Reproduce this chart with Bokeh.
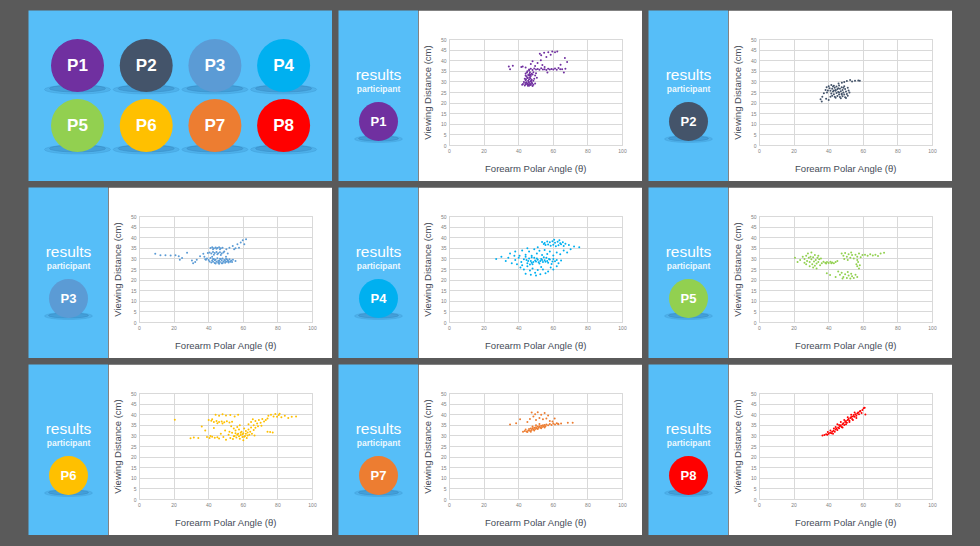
from bokeh.plotting import figure
from bokeh.layouts import row, column
from bokeh.models import Range1d, FixedTicker, Spacer, ColumnDataSource
from bokeh.core.properties import value
from bokeh.embed import file_html
from bokeh.resources import INLINE

# ---------------- data ----------------
PARTICIPANTS = ["P1", "P2", "P3", "P4", "P5", "P6", "P7", "P8"]
COLORS = ["#7030A0", "#44546A", "#5B9BD5", "#00B0F0",
          "#92D050", "#FFC000", "#ED7D31", "#FF0000"]
X_TICKS = [0, 20, 40, 60, 80, 100]
Y_TICKS = [0, 5, 10, 15, 20, 25, 30, 35, 40, 45, 50]
X_LABEL = "Forearm Polar Angle (\u03b8)"
Y_LABEL = "Viewing Distance (cm)"
HEADING = "results"
SUBHEADING = "participant"

P1 = [(52.2,43.3),(54.7,43.7),(57.1,44.0),(59.4,44.3),(61.0,44.0),(62.3,44.3),(56.0,41.7),(53.0,42.6),(58.5,42.8),
      (66.7,41.3),(68.0,39.4),(64.2,38.1),(65.1,36.0),(67.0,36.2),(66.1,34.4),(63.0,36.5),
      (34.3,37.3),(35.0,36.0),(36.6,37.6),(41.5,37.0),(42.3,37.3),(44.0,36.8),
      (48.0,39.7),(50.9,38.9),(52.8,40.2),(53.7,38.0),(50.0,34.1),(56.6,34.4),(55.0,37.0),(49.5,37.5),(47.0,38.5),
      (46,35.8),(47,36.2),(48,35.6),(49,36.3),(50,35.9),(51,36.1),(52,35.7),(53,36.4),(54,35.9),(55,36.0),
      (56,35.6),(57,36.2),(58,35.8),(59,36.1),(60,35.9),(61,36.3),(62,35.7),(64,36.0),
      (45.0,35.0),(46.5,34.5),(44.0,34.0),(47.5,33.8),(45.5,33.2),(46.0,33.0),(48.0,33.5),(44.5,32.5),(46.5,32.2),
      (47.0,32.8),(45.0,31.8),(43.5,31.5),(46.0,31.2),(47.5,31.0),(44.0,30.8),(45.5,30.5),(46.8,30.2),(43.0,30.0),
      (44.5,29.8),(46.0,29.5),(47.5,29.8),(48.5,30.5),(42.5,29.0),(44.0,28.8),(45.5,28.6),(47.0,28.5),(48.5,28.7),
      (49.5,29.2),(43.5,28.3),(46.0,28.2),(48.0,28.1),(49.0,31.5),(49.5,33.0),(50.5,32.0),(42.0,28.6),(45.0,29.2),
      (47.0,29.0),(44.0,33.0),(48.5,34.5),(46.0,35.5),
      (44.8,34.4),(46.2,33.7),(45.2,32.0),(46.8,31.6),(44.2,31.2),(45.8,30.0),(47.2,30.6),(44.8,29.0),(46.5,28.9),
      (47.8,29.3),(45.3,28.2),(46.9,33.4),(43.8,29.5)]

P2 = [(50.5,30.4),(52.4,30.9),(55.2,30.6),(57.1,30.7),(58.0,30.6),(47.6,29.6),(45.7,29.3),(53.5,30.2),(49.0,29.9),
      (35.3,21.8),(36.3,23.0),(37.2,24.6),(38.2,26.2),(40.0,21.5),(41.0,23.0),(36.0,20.8),(38.5,22.0),(39.0,25.0),
      (40.0,28.0),(41.5,28.5),(43.0,28.2),(44.5,27.8),(46.0,28.3),(47.5,27.5),(49.0,28.0),(40.5,27.0),(42.0,26.8),
      (43.5,27.2),(45.0,26.5),(46.5,26.8),(48.0,26.2),(49.5,26.7),(51.0,27.2),(41.0,25.8),(42.5,25.5),(44.0,25.8),
      (45.5,25.2),(47.0,25.6),(48.5,25.0),(50.0,25.5),(41.5,24.5),(43.0,24.2),(44.5,24.8),(46.0,24.0),(47.5,24.4),
      (49.0,24.0),(50.5,24.3),(52.0,25.0),(42.0,23.5),(43.5,23.0),(45.0,23.4),(46.5,22.9),(48.0,23.2),(49.5,22.8),
      (51.0,23.5),(44.0,22.5),(47.0,22.3),(50.0,22.4),(39.5,26.0),(38.8,27.5),(42.5,27.8),(45.5,27.0),(48.5,27.2),
      (51.5,26.0),(44.0,26.2),(46.0,25.0),(43.0,26.0),(47.5,24.0)]

P3 = [(9.1,32.4),(12.1,31.7),(15.0,31.7),(18.0,31.6),(20.8,31.7),(22.7,31.3),(23.3,29.6),(24.6,30.4),(27.5,32.9),
      (30.3,29.2),(32.2,28.5),(33.1,29.6),(35.0,31.3),(36.9,32.4),(38.4,29.6),(31.0,28.0),(37.5,31.0),(39.5,32.8),
      (41.0,35.2),(42.0,35.5),(43.0,35.0),(44.0,35.4),(45.0,35.1),(46.0,35.5),(47.0,35.0),(48.0,35.3),(42.5,34.6),
      (44.5,34.8),(46.5,34.5),
      (40.5,33.0),(41.5,32.6),(42.5,33.2),(43.5,32.8),(44.5,33.3),(45.5,32.7),(46.5,33.1),(47.5,32.5),(48.5,33.0),
      (43.0,32.0),(45.0,32.2),(47.0,31.8),
      (38.0,29.8),(39.0,30.2),(40.0,29.5),(41.0,30.4),(42.0,29.2),(43.0,30.0),(44.0,29.6),(45.0,30.3),(46.0,29.3),
      (47.0,29.9),(48.0,30.2),(49.0,29.5),(50.0,30.0),(51.0,29.4),(52.0,29.8),(53.0,29.2),(54.0,29.6),(55.5,29.0),
      (40.5,28.8),(41.5,28.3),(42.5,28.6),(43.5,28.1),(44.5,28.7),(45.5,28.2),(46.5,28.5),(47.5,28.0),(48.5,28.6),
      (49.5,28.2),(50.5,28.7),(51.5,28.3),(52.5,28.6),(44.0,27.8),(46.0,27.7),(48.0,27.9),(42.0,31.0),(50.0,31.0),
      (50.2,34.5),(52.0,35.3),(53.9,36.1),(54.7,34.5),(56.6,36.9),(57.5,35.3),(58.5,37.7),(59.7,38.8),(61.6,39.3),
      (60.6,36.9),(55.5,35.0),(49.0,33.5),(51.0,32.5),
      (43.5,29.4),(45.5,29.0),(47.5,29.3),(49.5,29.0),(51.5,28.9),(53.5,28.5),(42.5,29.9),(46.5,30.1),(50.5,29.8)]

P4 = [(53.5,38.0),(55.0,37.5),(56.5,38.2),(58.0,37.8),(59.5,38.3),(61.0,37.6),(62.5,38.1),(64.0,37.4),(65.5,37.9),
      (67.0,37.2),(55.5,36.5),(57.0,36.8),(58.5,36.2),(60.0,36.7),(61.5,36.0),(63.0,36.4),(64.5,36.9),(66.0,36.1),
      (69.0,36.5),(72.0,35.8),(75.0,35.5),(54.5,37.0),(60.5,39.0),(63.5,38.8),
      (35.0,32.5),(38.0,33.5),(40.5,31.5),(42.0,34.0),(44.0,32.0),(46.0,33.5),(47.5,31.5),(49.0,34.5),(50.5,32.5),
      (52.0,33.8),(53.5,31.8),(55.0,34.2),(56.5,32.3),(58.0,33.5),(60.0,31.6),(62.0,33.0),(64.0,32.2),(66.0,34.0),
      (68.0,33.0),(70.0,34.5),(45.0,35.0),(51.0,35.5),
      (38.0,29.5),(40.0,30.5),(41.5,28.5),(43.0,29.8),(44.0,31.0),(45.0,28.0),(46.0,30.2),(47.0,29.0),(48.0,27.5),
      (49.0,30.5),(50.0,28.8),(51.0,29.6),(52.0,27.8),(53.0,30.0),(54.0,28.5),(55.0,29.4),(56.0,30.6),(57.0,28.2),
      (58.0,29.7),(59.0,27.6),(60.0,30.0),(61.0,28.9),(62.0,29.5),(63.0,28.0),(64.5,29.2),(44.5,29.5),(47.5,30.8),
      (50.5,30.2),(52.5,29.0),(54.5,30.8),(56.5,29.0),(48.5,28.5),(46.5,27.3),(42.0,27.0),
      (27.0,30.0),(30.0,31.0),(32.5,29.0),(34.0,30.5),(36.0,28.0),(37.5,31.5),(39.0,27.5),
      (41.0,26.0),(43.0,25.0),(45.0,26.5),(46.5,24.5),(48.0,25.5),(49.5,23.5),(51.0,24.8),(52.5,22.8),(54.0,25.0),
      (55.5,23.2),(57.0,24.0),(58.5,26.0),(44.0,23.0),(47.0,22.5),(50.0,22.2),(53.0,26.2),(60.0,25.0),(62.0,26.5),
      (49.5,29.2),(51.5,28.4),(53.5,29.5),(55.5,28.7),(57.5,29.9),(59.5,28.8),(47.5,28.2),(45.5,29.0)]

P5 = [(23.5,29.5),(25.0,31.0),(26.0,30.0),(27.0,31.5),(27.5,29.0),(28.0,32.5),(28.5,30.5),(29.0,28.5),(29.5,31.0),
      (30.0,29.8),(30.5,27.5),(31.0,30.8),(31.5,28.8),(32.0,31.8),(32.5,29.5),(33.0,27.8),(33.5,30.5),(34.0,28.5),
      (34.5,29.8),(35.0,27.0),(35.5,30.2),(36.0,28.0),(29.0,26.5),(31.0,26.0),(33.0,25.5),(27.0,27.5),(30.0,33.0),
      (26.0,28.2),(34.0,31.5),(32.0,26.8),
      (37.0,28.6),(38.0,28.2),(39.0,28.5),(40.0,28.1),(41.0,28.6),(42.0,28.3),(43.0,28.0),(44.0,28.5),(38.5,27.8),
      (41.5,27.9),
      (47.5,32.5),(48.5,31.5),(49.5,32.8),(50.5,31.0),(51.5,32.2),(52.5,30.5),(53.5,31.8),(54.5,30.2),(55.5,32.0),
      (56.5,31.0),(57.5,32.5),(58.5,30.8),(59.5,31.8),(49.0,30.0),(51.0,29.5),(53.0,33.0),
      (61.0,32.0),(62.5,31.5),(64.0,32.2),(65.5,31.6),(67.0,32.0),(68.5,31.4),(70.0,32.5),(72.0,32.9),
      (56.5,29.5),(57.0,28.5),(56.0,27.5),(56.5,26.5),(57.5,25.5),(58.0,27.0),
      (45.5,24.0),(46.5,22.5),(47.5,23.5),(48.5,21.5),(49.5,22.8),(50.5,21.0),(51.5,22.2),(52.5,20.8),(53.5,21.8),
      (54.5,21.0),(55.5,22.5),(56.5,21.5),(48.0,20.8),(51.0,23.8),(53.0,23.0),(38.9,23.2),(40.8,22.4),(44.0,21.5),
      (20.5,30.5),(22.0,28.5),(45.0,29.0)]

P6 = [(20.4,37.6),(29.5,28.9),(31.4,29.2),(34.0,29.0),
      (39.0,29.5),(40.5,29.0),(42.0,29.6),(43.5,29.1),(45.0,29.4),(46.0,28.8),(41.0,30.0),
      (40.0,37.5),(41.5,37.2),(43.0,36.6),(44.5,37.0),(46.0,36.5),(47.5,36.8),(49.0,36.4),(50.5,36.9),(52.0,36.3),
      (53.5,36.7),(45.0,36.0),(48.0,35.8),(42.0,37.8),
      (44.0,40.0),(46.0,39.5),(48.0,40.2),(50.0,39.6),(52.5,39.8),(55.0,39.2),(57.0,40.0),
      (51.5,30.5),(52.5,29.0),(53.5,31.5),(54.0,28.5),(55.0,30.0),(55.5,32.5),(56.0,29.2),(57.0,31.0),(57.5,33.0),
      (58.0,28.6),(58.5,30.4),(59.0,32.0),(59.5,29.5),(60.0,31.2),(60.5,33.5),(61.0,30.0),(61.5,32.3),(62.0,29.0),
      (62.5,31.6),(63.0,33.0),(63.5,30.5),(64.0,32.0),(64.5,34.0),(65.0,31.0),(66.0,32.8),(66.5,30.2),(67.0,33.8),
      (54.5,33.5),(56.5,34.2),(52.0,32.0),(50.0,28.2),(48.5,29.5),(47.0,31.0),(49.5,32.5),(53.0,34.5),(58.0,35.0),
      (60.0,28.0),
      (63.0,35.5),(64.5,36.5),(66.0,35.0),(67.0,37.0),(68.0,35.8),(69.0,37.5),(70.0,36.2),(71.0,38.0),(72.0,36.8),
      (73.0,37.5),(74.0,38.2),(65.5,37.8),(68.5,34.5),(70.5,34.8),
      (74.5,39.5),(76.0,40.0),(77.5,39.2),(78.5,40.3),(79.5,39.0),(80.5,39.8),(82.0,38.8),(84.0,39.5),(86.0,38.5),
      (88.0,39.0),(90.5,39.2),(81.0,40.5),
      (77.0,31.6),(74.0,32.0),(75.5,31.8),(36.0,34.4),(43.0,33.7),(38.0,32.5),
      (56.5,30.6),(57.5,29.8),(58.5,31.5),(59.5,30.8),(60.5,29.6),(61.5,31.0),(62.5,30.2),(55.5,31.2),(54.5,29.8)]

P7 = [(42.5,32.0),(43.5,32.3),(44.5,32.1),(45.5,32.6),(46.0,33.2),(46.5,32.4),(47.0,33.5),(47.5,32.8),(48.0,33.6),
      (48.5,33.0),(49.0,33.9),(49.5,33.3),(50.0,34.1),(50.5,33.5),(51.0,34.4),(51.5,33.8),(52.0,34.6),(52.5,34.0),
      (53.0,34.8),(53.5,34.2),(54.0,35.0),(54.5,34.4),(55.0,35.2),(55.5,34.6),(56.0,35.4),(57.0,35.0),(58.0,35.6),
      (59.0,35.2),(60.0,35.8),(61.0,35.4),(62.0,36.0),(63.0,35.5),(64.5,35.8),(44.0,33.0),(45.0,31.8),(47.0,32.0),
      (49.0,32.6),(51.0,33.2),(53.0,33.6),(55.0,34.0),(50.0,35.0),(52.0,35.6),(48.0,34.4),
      (47.5,41.0),(49.5,40.2),(51.0,41.2),(53.0,40.0),(55.0,40.8),(57.0,39.6),(48.5,39.2),(52.0,38.5),(54.0,37.8),
      (56.0,38.2),(58.0,37.0),(46.5,38.0),(50.0,37.5),(60.8,38.2),(62.7,35.7),(59.5,36.8),(45.0,36.5),
      (35.0,35.4),(40.8,37.8),(38.5,36.0),(68.4,36.2),(71.2,36.2)]

P8 = [(36.4,30.2),(37.5,30.4),(38.5,30.8),(39.2,30.6),(40.0,31.0),(40.8,31.5),(41.5,31.2),(42.0,32.0),(42.8,32.4),
      (43.5,32.0),(44.0,33.0),(44.5,33.5),(45.0,32.8),(45.5,34.0),(46.0,33.6),(46.5,34.5),(47.0,35.0),(47.5,34.2),
      (48.0,35.5),(48.5,36.0),(49.0,35.2),(49.5,36.5),(50.0,37.0),(50.5,36.2),(51.0,37.5),(51.5,38.0),(52.0,37.2),
      (52.5,38.4),(53.0,38.9),(53.5,38.0),(54.0,39.2),(54.5,39.8),(55.0,39.0),(55.5,40.2),(56.0,39.5),(56.5,40.6),
      (57.0,41.0),(57.5,40.2),(58.0,41.5),(58.3,41.7),(59.0,40.8),(60.2,43.0),(61.2,40.1),(60.8,43.3),(59.5,42.2),
      (44.0,34.2),(46.0,35.2),(48.0,34.0),(50.0,35.5),(52.0,36.5),(54.0,37.5),(56.0,38.5),(45.0,35.5),(49.0,37.5),
      (53.0,40.0),(55.0,41.0),(43.0,33.5),(47.0,36.5),(51.0,38.8),(41.0,32.5),(42.5,31.0),(39.5,31.8)]

SERIES = [P1, P2, P3, P4, P5, P6, P7, P8]

# ---------------- styling / layout constants ----------------
FONT = "Liberation Sans"
BLUE = "#56BEF8"
GREY = "#5a5a5a"
PANEL_W, PANEL_H = 304, 171
STRIP_W = 80
GAP_X, GAP_Y = 6, 6
GRID_COLOR = "#d9d9d9"
TITLE_COLOR = "#454b57"
TICK_COLOR = "#808080"
SHADOW = "#2a78b0"


def base_fig(w, h, xr, yr, bg):
    f = figure(width=w, height=h, x_range=xr, y_range=yr, output_backend="svg",
               toolbar_location=None, x_axis_type=None, y_axis_type=None,
               min_border=0, title=None, frame_align=False)
    f.background_fill_color = bg
    f.border_fill_color = bg
    f.outline_line_color = None
    return f


def overview_panel():
    f = base_fig(PANEL_W, PANEL_H, Range1d(0, PANEL_W), Range1d(PANEL_H, 0), BLUE)
    xs, ys, cols, labels = [], [], [], []
    for i, (lab, col) in enumerate(zip(PARTICIPANTS, COLORS)):
        xs.append(49 + (i % 4) * 68.7)
        ys.append(55 + (i // 4) * 60)
        cols.append(col)
        labels.append(lab)
    src = ColumnDataSource(dict(x=xs, y=ys, c=cols, t=labels,
                                sy=[v + 24 for v in ys], sy2=[v + 23 for v in ys]))
    f.ellipse(x="x", y="sy", width=66, height=9, color=SHADOW, alpha=0.18, source=src)
    f.ellipse(x="x", y="sy2", width=56, height=7, color=SHADOW, alpha=0.3, source=src)
    f.scatter(x="x", y="y", size=53, color="c", line_color=None, source=src)
    f.text(x="x", y="y", text="t", text_align="center", text_baseline="middle",
           text_color="white", text_font=value(FONT), text_font_style="bold",
           text_font_size="17px", source=src)
    return f


def strip_panel(label, color):
    f = base_fig(STRIP_W, PANEL_H, Range1d(0, STRIP_W), Range1d(PANEL_H, 0), BLUE)
    cx = STRIP_W / 2
    f.text(x=[cx], y=[64], text=[HEADING], text_align="center", text_baseline="middle",
           text_color="white", text_font=value(FONT), text_font_size="15.5px")
    f.text(x=[cx], y=[78.5], text=[SUBHEADING], text_align="center", text_baseline="middle",
           text_color="white", text_alpha=0.92, text_font=value(FONT), text_font_style="bold",
           text_font_size="8.5px")
    f.ellipse(x=[cx], y=[128.5], width=48, height=7, color=SHADOW, alpha=0.18)
    f.ellipse(x=[cx], y=[128], width=40, height=5, color=SHADOW, alpha=0.3)
    f.scatter(x=[cx], y=[111], size=39, color=color, line_color=None)
    f.text(x=[cx], y=[111], text=[label], text_align="center", text_baseline="middle",
           text_color="white", text_font=value(FONT), text_font_style="bold",
           text_font_size="13px")
    return f


def scatter_panel(points, color):
    f = figure(width=PANEL_W - STRIP_W, height=PANEL_H, x_range=Range1d(0, 100),
               y_range=Range1d(0, 50), output_backend="svg", toolbar_location=None,
               min_border_left=29, min_border_right=20, min_border_top=29,
               min_border_bottom=36, title=None, frame_align=False)
    f.background_fill_color = "white"
    f.border_fill_color = "white"
    f.outline_line_color = GRID_COLOR
    f.xaxis.ticker = FixedTicker(ticks=X_TICKS)
    f.yaxis.ticker = FixedTicker(ticks=Y_TICKS)
    f.xaxis.axis_label = X_LABEL
    f.yaxis.axis_label = Y_LABEL
    for ax in (f.xaxis, f.yaxis):
        ax.axis_line_color = None
        ax.major_tick_line_color = None
        ax.minor_tick_line_color = None
        ax.major_tick_in = 0
        ax.major_tick_out = 0
        ax.minor_tick_in = 0
        ax.minor_tick_out = 0
        ax.major_label_text_font_size = "5px"
        ax.major_label_text_color = TICK_COLOR
        ax.major_label_text_font = FONT
        ax.major_label_standoff = 3
        ax.axis_label_text_font = FONT
        ax.axis_label_text_font_size = "9.5px"
        ax.axis_label_text_font_style = "normal"
        ax.axis_label_text_color = TITLE_COLOR
    f.xaxis.axis_label_standoff = 7
    f.yaxis.axis_label_standoff = 5
    f.xgrid.grid_line_color = GRID_COLOR
    f.ygrid.grid_line_color = GRID_COLOR
    src = ColumnDataSource(dict(x=[p[0] for p in points], y=[p[1] for p in points]))
    f.scatter(x="x", y="y", source=src, size=2.0, color=color, line_color=None)
    return f


panels = [overview_panel()]
for lab, col, pts in zip(PARTICIPANTS, COLORS, SERIES):
    panels.append(row(strip_panel(lab, col), scatter_panel(pts, col), spacing=0))

grid_rows = [row(*panels[i:i + 3], spacing=GAP_X) for i in range(0, 9, 3)]
grid = column(*grid_rows, spacing=GAP_Y)

page = column(Spacer(height=10), row(Spacer(width=28), grid, spacing=0), spacing=0,
              width=980, height=546, styles={"background-color": GREY})

open("out.html", "w").write(file_html(page, INLINE))
